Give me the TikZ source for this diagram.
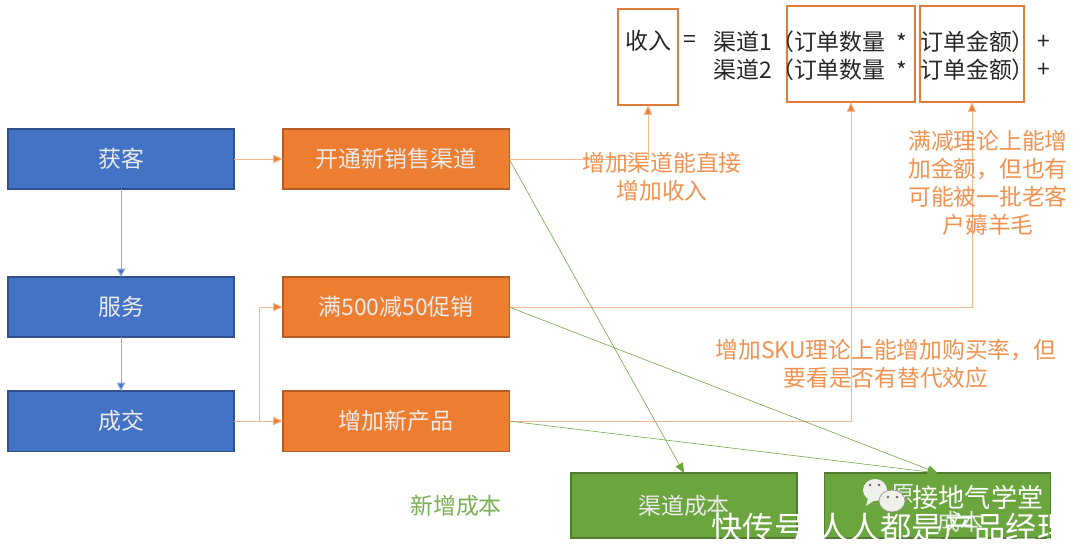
\documentclass[tikz,border=0pt]{standalone}
\usepackage{fontspec}
\setmainfont{Noto Sans CJK SC}
\usetikzlibrary{arrows,arrows.meta,positioning}
\definecolor{stageblue}{HTML}{4472C4}
\definecolor{stageorange}{HTML}{ED7D31}
\definecolor{stagegreen}{HTML}{6AA53E}
\definecolor{markwhite}{HTML}{EFF0EA}

\begin{document}
\begin{tikzpicture}
  [x=0.025cm,y=-0.025cm,font=\fontsize{16.3pt}{20pt}\selectfont,
   boxnode/.style={rectangle,thick,outer sep=0pt,text=white!92!black,minimum width=5.65cm,minimum height=1.5cm,inner sep=0pt},
   funnel/.style={boxnode,draw=stageblue!70!black,fill=stageblue},
   action/.style={boxnode,draw=stageorange!75!black,fill=stageorange},
   cost/.style={boxnode,draw=stagegreen!75!black,fill=stagegreen,minimum height=1.625cm},
   formula/.style={rectangle,outer sep=0pt,draw=stageorange!90!gray,line width=1pt,inner sep=0pt,minimum height=2.4cm},
   term/.style={inner sep=0pt,text=black!85},
   note/.style={inner sep=0pt,align=center,text=stageorange!85!white,font=\fontsize{16.2pt}{19.9pt}\selectfont},
   blueline/.style={draw=stageblue!60!white,line width=.7pt,-{Triangle[length=6pt,width=6pt,fill=stageblue]}},
   orangeline/.style={draw=stageorange!55!white,line width=.7pt,-{Triangle[length=7pt,width=6pt,fill=stageorange]}},
   greenline/.style={draw=stagegreen,-{Triangle[length=7pt,width=6pt,fill=stagegreen]}},
   marktext/.style={inner sep=0pt,text=white}]
  \useasboundingbox (0,0) rectangle (1080,545);
  \node[funnel] (acquire) at (121,159) {获客};
  \node[funnel] (service) [below=2.2cm of acquire] {服务};
  \node[funnel] (deal) [below=1.35cm of service] {成交};
  \node[action] (channel) [right=1.225cm of acquire] {开通新销售渠道};
  \node[action] (promo) [right=1.225cm of service] {满500减50促销};
  \node[action] (newprod) [right=1.225cm of deal] {增加新产品};
  \node[cost] (c_channel) at (684,505.5) {渠道成本};
  \node[cost] (c_goods) at (937.5,505.5) {};
  \node[inner sep=0pt,text=white!92!black] (t_goods1) at (903,494) {原};
  \node[inner sep=0pt,text=white!92!black] (t_goods2) at (960,522) {成本};
  \node[inner sep=0pt,text=stagegreen!90!white] (t_cost) at (456,506) {新增成本};
  % formula
  \node[formula,minimum width=1.5cm] (income) at (648,57) {};
  \node[formula,minimum width=3.2cm] (quantity) at (851,54) {};
  \node[formula,minimum width=2.6cm] (amount) at (972,54) {};
  \node[term] (t_income) at (648,41) {收入};
  \node[term] (t_eq) at (690,42) {=};
  \node[term,anchor=west] (t_ch1) at (713,42) {渠道1};
  \node[term,anchor=west] (t_ch2) at (713,70) {渠道2};
  \node[term,anchor=east] (t_qty1) at (886,42) {（订单数量};
  \node[term,anchor=east] (t_qty2) at (886,70) {（订单数量};
  \node[term] (t_star1) at (902,42) {*};
  \node[term] (t_star2) at (902,70) {*};
  \node[term,anchor=west] (t_amt1) at (920,42) {订单金额）};
  \node[term,anchor=west] (t_amt2) at (920,70) {订单金额）};
  \node[term] (t_plus1) at (1044,42) {+};
  \node[term] (t_plus2) at (1044,70) {+};
  % connectors
  \draw[blueline] (acquire.south) -- (service.north);
  \draw[blueline] (service.south) -- (deal.north);
  \draw[orangeline] (acquire.east) -- (channel.west);
  \draw[orangeline] (deal.east) -- (newprod.west);
  \draw[orangeline] (deal.east) -- ++(25,0) |- (promo.west);
  \draw[orangeline] (channel.east) -| (income.south);
  \draw[orangeline] (promo.east) -| (amount.south);
  \draw[orangeline] (newprod.east) -| (quantity.south);
  \draw[greenline] (channel.east) -- (c_channel.north);
  \draw[greenline] (promo.east) -- (c_goods.north);
  \draw[greenline] (newprod.east) -- (c_goods.north);
  % notes
  \node[note] (n_channel) at (662,177) {增加渠道能直接\\增加收入};
  \node[note] (n_promo) at (988,183) {满减理论上能增\\加金额，但也有\\可能被一批老客\\户薅羊毛};
  \node[note] (n_sku) at (886,364) {增加SKU理论上能增加购买率，但\\要看是否有替代效应};
  % watermark
  \fill[markwhite] (875,490) ellipse (12 and 11);
  \fill[markwhite] (868,498) -- (866,506) -- (875,500) -- cycle;
  \fill[black!60] (870,485) circle (1.3) (879,485) circle (1.3);
  \filldraw[fill=markwhite,draw=black!45] (892,501) ellipse (13 and 11);
  \fill[black!60] (888,497) circle (1.3) (897,497) circle (1.3);
  \node[marktext,font=\fontsize{18.6pt}{22pt}\selectfont] (w_name) at (978,497) {接地气学堂};
  \node[marktext,anchor=west,font=\fontsize{22.3pt}{26pt}\selectfont] (w_site) at (711,529) {快传号/人人都是产品经理};
\end{tikzpicture}
\end{document}
